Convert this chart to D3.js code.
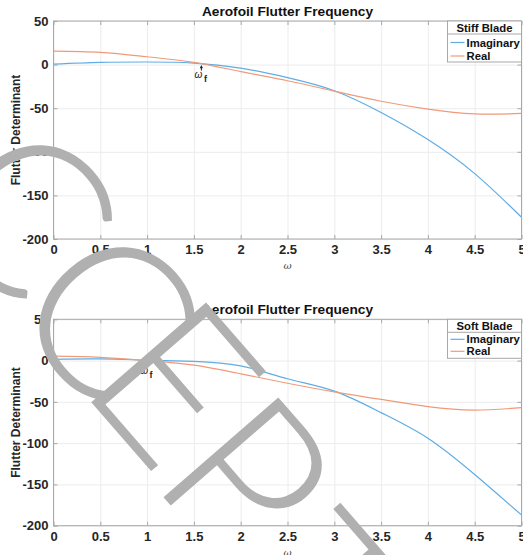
<!DOCTYPE html>
<html>
<head>
<meta charset="utf-8">
<script src="https://cdn.jsdelivr.net/npm/d3@7"></script>
<style>
body { margin: 0; background: #fff; }
text { font-family: "Liberation Sans", Arial, sans-serif; }
</style>
</head>
<body>
<script>
width = 523;
height = 555;

// values
omega = [0, 0.5, 1, 1.5, 2, 2.5, 3, 3.5, 4, 4.5, 5];
stiff_imag = [0.5, 2.5, 3, 1.8, -4, -15, -30, -55, -86, -125, -175];
stiff_real = [15.5, 14, 9, 2.5, -8, -18.5, -30.5, -42, -51, -56.5, -56];
soft_imag = [1.5, 2, 0.5, -1, -6.5, -22, -37, -63, -94, -138, -187];
soft_real = [5.5, 4, 0, -5.5, -16, -27.5, -38, -47, -55.8, -60, -57];
flutter_freq = {"stiff": 1.58, "soft": 1.0};
x_ticks = [0, 0.5, 1, 1.5, 2, 2.5, 3, 3.5, 4, 4.5, 5];
y_ticks = [50, 0, -50, -100, -150, -200];
series_names = ["Imaginary", "Real"];
colors = ["#5eade6", "#f09a7a"];

svg_elem = d3.select("body")
  .append("svg")
  .attr("width", width)
  .attr("height", height);
svg_elem.append("rect")
  .attr("width", width)
  .attr("height", height)
  .attr("fill", "#fff");

function plain(d) { return String(d); }

function draw_panel(box, legend_title, imag, real, wf) {
  var x = d3.scaleLinear().domain([0, 5]).range([box.left, box.right]);
  var y = d3.scaleLinear().domain([-200, 50]).range([box.bottom, box.top]);
  var g = svg_elem.append("g");
  var h = box.bottom - box.top, w = box.right - box.left;

  // grid
  g.append("g").attr("class", "grid").attr("transform", "translate(0," + box.bottom + ")")
    .call(d3.axisBottom(x).tickValues(x_ticks).tickSize(-h).tickFormat(""));
  g.append("g").attr("class", "grid").attr("transform", "translate(" + box.left + ",0)")
    .call(d3.axisLeft(y).tickValues(y_ticks).tickSize(-w).tickFormat(""));
  g.selectAll(".grid .domain").remove();
  g.selectAll(".grid line").attr("stroke", "#ececec");

  // curves
  var line = d3.line().curve(d3.curveNatural)
    .x(function(d, i) { return x(omega[i]); })
    .y(function(d) { return y(d); });
  [imag, real].forEach(function(vals, k) {
    g.append("path").attr("d", line(vals))
      .attr("fill", "none").attr("stroke", colors[k]).attr("stroke-width", 1.2);
  });

  // axes with inward ticks on all four sides
  var xa = g.append("g").attr("class", "ax").attr("transform", "translate(0," + box.bottom + ")")
    .call(d3.axisBottom(x).tickValues(x_ticks).tickSizeInner(-4).tickSizeOuter(0).tickPadding(6)
      .tickFormat(plain));
  var ya = g.append("g").attr("class", "ax").attr("transform", "translate(" + box.left + ",0)")
    .call(d3.axisLeft(y).tickValues(y_ticks).tickSizeInner(-4).tickSizeOuter(0).tickPadding(5)
      .tickFormat(plain));
  g.append("g").attr("class", "ax").attr("transform", "translate(0," + box.top + ")")
    .call(d3.axisTop(x).tickValues(x_ticks).tickSizeInner(-4).tickSizeOuter(0).tickFormat(""));
  g.append("g").attr("class", "ax").attr("transform", "translate(" + box.right + ",0)")
    .call(d3.axisRight(y).tickValues(y_ticks).tickSizeInner(-4).tickSizeOuter(0).tickFormat(""));
  g.selectAll(".ax .domain").remove();
  g.selectAll(".ax line").attr("stroke", "#a8a8a8");
  [xa, ya].forEach(function(a) {
    a.selectAll("text").attr("font-size", 13).attr("font-weight", "bold").attr("fill", "#262626")
      .style("font-family", "'Liberation Sans', Arial, sans-serif");
  });
  g.append("rect").attr("x", box.left).attr("y", box.top).attr("width", w).attr("height", h)
    .attr("fill", "none").attr("stroke", "#a8a8a8").attr("stroke-width", 1);

  // title and labels
  g.append("text").attr("x", (box.left + box.right) / 2).attr("y", box.top - 5.5)
    .attr("text-anchor", "middle").attr("font-size", 13.7).attr("font-weight", "bold").attr("fill", "#111")
    .text("Aerofoil Flutter Frequency");
  g.append("text").attr("transform", "translate(20," + (box.top + h / 2) + ") rotate(-90)")
    .attr("text-anchor", "middle").attr("font-size", 12).attr("font-weight", "bold").attr("fill", "#262626")
    .text("Flutter Determinant");
  g.append("text").attr("x", (box.left + box.right) / 2).attr("y", box.bottom + 30)
    .attr("text-anchor", "middle").attr("font-size", 10).attr("font-style", "italic").attr("fill", "#444")
    .style("font-family", "'DejaVu Serif', serif")
    .text("ω");

  // flutter frequency marker
  var ax = x(wf), ay = y(0);
  g.append("line").attr("x1", ax).attr("x2", ax).attr("y1", ay + 2).attr("y2", ay + 6)
    .attr("stroke", "#222").attr("stroke-width", 1);
  g.append("path").attr("d", "M" + ax + "," + (ay + 0.5) + "l-1.6,3.2h3.2z").attr("fill", "#222");
  g.append("text").attr("x", ax + 1).attr("y", ay + 13.5).attr("text-anchor", "end")
    .attr("font-size", 10).attr("font-style", "italic").attr("fill", "#222").text("ω");
  g.append("text").attr("x", ax + 2.5).attr("y", ay + 17.5).attr("font-size", 9).attr("font-weight", "bold")
    .attr("fill", "#222").text("f");

  // legend
  var lg = g.append("g");
  var lx = box.right - 74, ly = box.top;
  lg.append("rect").attr("x", lx).attr("y", ly).attr("width", 74).attr("height", box.legend_h)
    .attr("fill", "#fff").attr("stroke", "#a8a8a8");
  lg.append("line").attr("x1", lx).attr("x2", lx + 74).attr("y1", ly + box.legend_div).attr("y2", ly + box.legend_div)
    .attr("stroke", "#a8a8a8");
  lg.append("text").attr("x", lx + 37).attr("y", ly + box.legend_div - 2.5).attr("text-anchor", "middle")
    .attr("font-size", 11.3).attr("font-weight", "bold").attr("fill", "#111").text(legend_title);
  series_names.forEach(function(name, k) {
    var yy = ly + box.legend_rows[k];
    lg.append("line").attr("x1", lx + 3).attr("x2", lx + 17).attr("y1", yy).attr("y2", yy)
      .attr("stroke", colors[k]).attr("stroke-width", 1.2);
    lg.append("text").attr("x", lx + 19).attr("y", yy + 4).attr("font-size", 11.3).attr("font-weight", "bold")
      .attr("fill", "#111").text(name);
  });
}

draw_panel({"left": 53.5, "right": 521.5, "top": 21, "bottom": 239,
            "legend_h": 41, "legend_div": 13, "legend_rows": [21.5, 35]},
           "Stiff Blade", stiff_imag, stiff_real, flutter_freq.stiff);
draw_panel({"left": 53.5, "right": 521.5, "top": 319.3, "bottom": 525.7,
            "legend_h": 39, "legend_div": 13, "legend_rows": [20, 32]},
           "Soft Blade", soft_imag, soft_real, flutter_freq.soft);

// manuscript watermark, one glyph at a time along a 49 degree baseline
watermark = "ACCEPTED".split("");
watermark_centres = [[-85, 100], [25, 213], [108, 315], [174, 383], [246, 478], [321, 598], [390, 680], [460, 760]];
svg_elem.append("g").selectAll("text")
  .data(watermark)
  .join("text")
  .attr("transform", function(d, i) {
    return "translate(" + watermark_centres[i][0] + "," + watermark_centres[i][1] + ") rotate(49)";
  })
  .attr("y", 75)
  .attr("text-anchor", "middle")
  .attr("font-size", 215)
  .attr("font-weight", 300)
  .attr("fill", "#b0b0b0")
  .style("font-family", "Lato, Inter, sans-serif")
  .text(function(d) { return d; });
</script>
</body>
</html>
